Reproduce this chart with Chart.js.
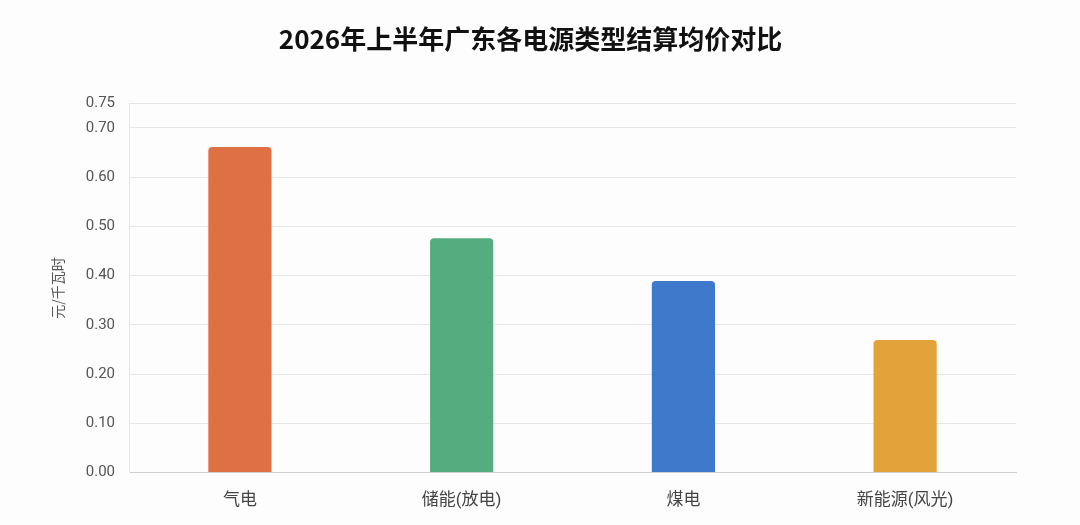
<!DOCTYPE html>
<html>
<head>
<meta charset="utf-8">
<script src="https://cdn.jsdelivr.net/npm/chart.js@4.4.1/dist/chart.umd.min.js"></script>
<style>
  html, body { margin: 0; padding: 0; background: #fdfdfd; }
  #wrap { width: 1080px; height: 525px; }
</style>
</head>
<body>
<div id="wrap"><canvas id="bar-chart"></canvas></div>
<script>
// data
var categories = ["气电", "储能(放电)", "煤电", "新能源(风光)"];
var prices = [0.661, 0.476, 0.389, 0.269];
var barColors = ["#DF7044", "#53AD7F", "#3E79CC", "#E2A33A"];
var tickValues = [0, 0.1, 0.2, 0.3, 0.4, 0.5, 0.6, 0.7, 0.75];

var font = "Roboto, 'Noto Sans CJK SC', sans-serif";

var barChart = new Chart(document.getElementById("bar-chart"), {
    type: 'bar',
    data: {
      labels: categories,
      datasets: [{
        data: prices,
        backgroundColor: barColors,
        borderRadius: { topLeft: 4, topRight: 4 },
        borderSkipped: 'bottom',
        categoryPercentage: 1.0,
        barPercentage: 0.285
      }]
    },
    options: {
      responsive: true,
      maintainAspectRatio: false,
      animation: false,
      layout: { padding: { left: 45, right: 64, top: 24, bottom: 4 } },
      plugins: {
        legend: { display: false },
        tooltip: { enabled: false },
        title: {
          display: true,
          text: '2026年上半年广东各电源类型结算均价对比',
          color: '#111',
          font: { family: "'Noto Sans CJK SC', sans-serif", size: 26, weight: 'bold' },
          padding: { top: 0, bottom: 48 }
        }
      },
      scales: {
        x: {
          grid: { display: false },
          border: { color: '#cfcfcf', width: 1 },
          ticks: { color: '#444', font: { family: font, size: 17 }, padding: 10 }
        },
        y: {
          min: 0,
          max: 0.75,
          afterBuildTicks: function(axis) {
            axis.ticks = tickValues.map(function(v) { return { value: v }; });
          },
          grid: { color: '#e6e6e6', drawTicks: false },
          border: { display: true, color: '#e6e6e6' },
          ticks: {
            color: '#555',
            font: { family: font, size: 15 },
            padding: 14,
            callback: function(v) { return Number(v).toFixed(2); }
          },
          title: {
            display: true,
            text: '元/千瓦时',
            color: '#555',
            font: { family: "'Noto Sans CJK SC', sans-serif", size: 14 },
            padding: { bottom: 6 }
          }
        }
      }
    }
});
</script>
</body>
</html>
